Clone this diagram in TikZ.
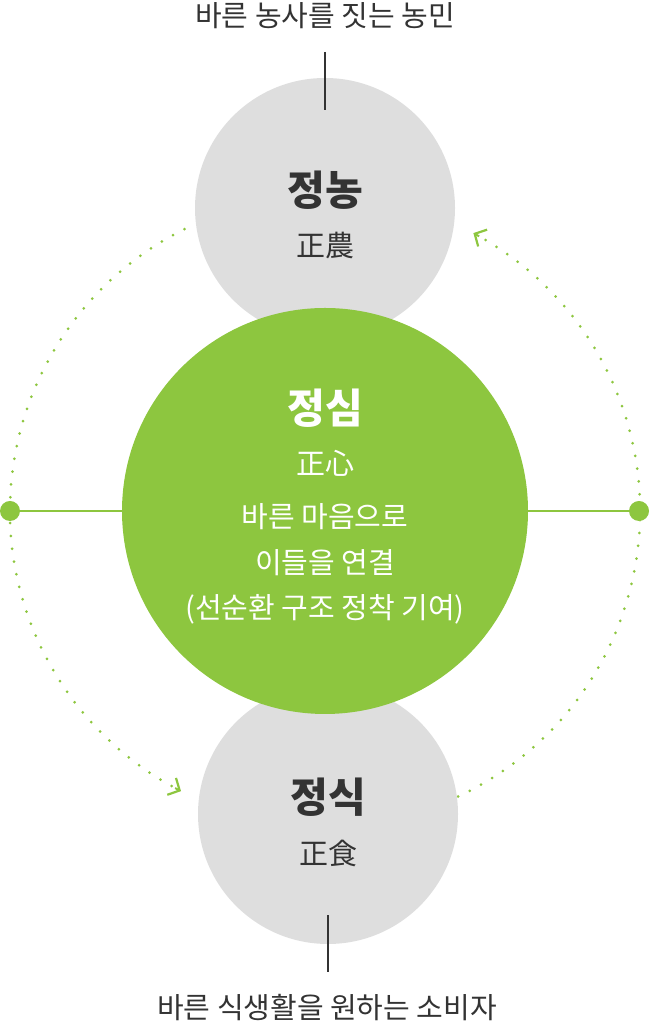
\documentclass[tikz,border=0pt]{standalone}
\usepackage{fontspec}
\setmainfont{Noto Sans CJK KR}
\usepackage{tikz}
\usetikzlibrary{arrows.meta}
\definecolor{leafgreen}{HTML}{8DC63F}
\definecolor{softgray}{HTML}{DEDEDE}
\definecolor{inkgray}{HTML}{333333}
\tikzset{
    ball/.style={circle, fill=softgray, minimum size=260pt, inner sep=0pt},
    core/.style={circle, fill=leafgreen, minimum size=406pt, inner sep=0pt},
    title/.style={font=\bfseries\fontsize{41}{45}\selectfont, text=inkgray, inner sep=0pt},
    subtitle/.style={font=\fontsize{29}{34}\selectfont, text=inkgray, inner sep=0pt},
    endpoint/.style={circle, fill=leafgreen, minimum size=20pt, inner sep=0pt},
    cycle/.style={leafgreen, line width=3pt, line cap=round, dash pattern=on 0pt off 12.9pt},
    chevron/.style={-{Straight Barb[length=9pt, width=19pt, line width=2.2pt]}}
}

\begin{document}
\begin{tikzpicture}[x=1pt, y=1pt]
        \useasboundingbox (0,0) rectangle (649,1024);

        % dotted cycle round the circles
        \draw[cycle] (325,513) ++(116.5:315) arc (116.5:241.5:315) coordinate (leftend);
        \draw[cycle] (325,513) ++(-65:315) arc (-65:61.5:315) coordinate (rightend);
        \draw[leafgreen, line width=2pt, chevron] (325,513) ++(241.6:315) arc (241.6:242.8:315);
        \draw[leafgreen, line width=2pt, chevron] (325,513) ++(60.7:315) arc (60.7:61.9:315);

        % producer
        \node[ball] (jeongnong) at (325,816) {};
        \node[title] (jeongnongname) at (325,834) {정농};
        \node[subtitle] (jeongnonghanja) at (325,778) {正農};

        % consumer
        \node[ball] (jeongsik) at (328,210) {};
        \node[title] (jeongsikname) at (328,227) {정식};
        \node[subtitle] (jeongsikhanja) at (328,171) {正食};

        % heart in the middle
        \node[core] (jeongsim) at (325,513) {};
        \node[title, text=white] (jeongsimname) at (325,616) {정심};
        \node[subtitle, text=white] (jeongsimhanja) at (325,561) {正心};
        \node[subtitle, text=white] (line1) at (325,507) {바른 마음으로};
        \node[subtitle, text=white] (line2) at (325,461) {이들을 연결};
        \node[subtitle, text=white] (line3) at (325,415) {(선순환 구조 정착 기여)};

        % side points
        \node[endpoint] (leftdot) at (10,513) {};
        \node[endpoint] (rightdot) at (639,513) {};
        \draw[leafgreen, line width=1.8pt] (leftdot) -- (jeongsim.west);
        \draw[leafgreen, line width=1.8pt] (jeongsim.east) -- (rightdot);

        % outer labels
        \node[subtitle] (farmer) at (325,1008) {바른 농사를 짓는 농민};
        \node[subtitle] (eater) at (327,16) {바른 식생활을 원하는 소비자};
        \coordinate (farmertip) at (325,972);
        \coordinate (farmerin) at (325,914);
        \coordinate (eatertip) at (328,52);
        \coordinate (eaterin) at (328,109);
        \draw[inkgray, line width=1.4pt] (farmertip) -- (farmerin);
        \draw[inkgray, line width=1.4pt] (eatertip) -- (eaterin);
\end{tikzpicture}
\end{document}
